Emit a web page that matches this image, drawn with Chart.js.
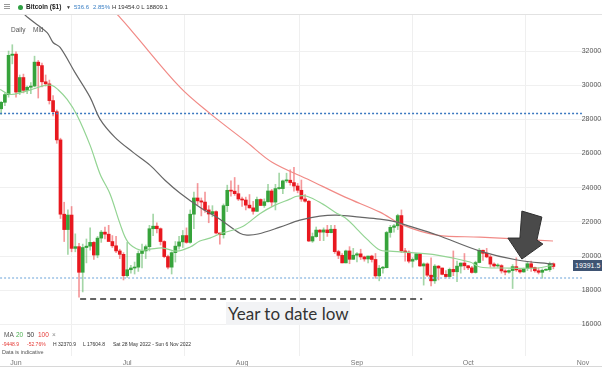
<!DOCTYPE html>
<html>
<head>
<meta charset="utf-8">
<script src="https://cdn.jsdelivr.net/npm/chart.js@4.4.0/dist/chart.umd.min.js"></script>
<style>
  body { margin: 0; background: #fff; }
  #wrap { position: relative; width: 602px; height: 369px; overflow: hidden; font-family: "Liberation Sans", Arial, sans-serif; }
  #wrap canvas { position: absolute; left: 0; top: 0; }
  .t { position: absolute; white-space: nowrap; line-height: 1; }
  .bar { position: absolute; left: 4px; width: 6px; height: 1px; background: #999; }
</style>
</head>
<body>
<div id="wrap">
  <canvas id="chart" width="602" height="369"></canvas>

  <!-- header strip -->
  <div class="bar" style="top:4px"></div>
  <div class="bar" style="top:6px"></div>
  <div class="bar" style="top:8px"></div>
  <div style="position:absolute;left:18px;top:5px;width:5px;height:5px;border-radius:50%;background:#2ea043"></div>
  <div class="t" style="left:26px;top:4px;font-size:6.5px;font-weight:bold;color:#222">Bitcoin ($1)</div>
  <div class="t" style="left:66px;top:5px;font-size:5px;color:#333">▼</div>
  <div class="t" style="left:74px;top:4px;font-size:6px;color:#3a7fc4">536.6</div>
  <div class="t" style="left:93px;top:4px;font-size:6px;color:#3a7fc4">2.85%</div>
  <div class="t" style="left:112px;top:4px;font-size:6px;color:#333">H 19454.0 L 18809.1</div>
  <div style="position:absolute;left:0;top:14px;width:602px;height:1px;background:#e2e2e2"></div>

  <div class="t" style="left:11px;top:27px;font-size:6.5px;color:#555">Daily</div>
  <div class="t" style="left:33px;top:27px;font-size:6.5px;color:#555">Mid</div>

  <!-- annotation -->
  <div class="t" style="left:226px;top:302px;width:124px;height:23px;background:#f2f3f5"></div>
  <div class="t" style="left:228px;top:305px;font-family:Lato, 'Open Sans', sans-serif;font-size:17px;color:#333">Year to date low</div>

  <!-- last price tag -->
  <div class="t" style="left:573px;top:260px;width:29px;height:11px;background:#3f5473"></div>
  <div class="t" style="left:575px;top:262px;font-size:7px;color:#fff">19391.5</div>

  <!-- legend bottom left -->
  <div class="t" style="left:4px;top:332px;font-size:6.5px;color:#555">MA</div>
  <div class="t" style="left:16px;top:332px;font-size:6.5px;color:#4caf50">20</div>
  <div class="t" style="left:27px;top:332px;font-size:6.5px;color:#333">50</div>
  <div class="t" style="left:38px;top:332px;font-size:6.5px;color:#e53935">100</div>
  <div class="t" style="left:52px;top:332px;font-size:6.5px;color:#888">×</div>
  <div class="t" style="left:2px;top:342px;font-size:5px;color:#e53935">-9448.9</div>
  <div class="t" style="left:27px;top:342px;font-size:5px;color:#e53935">-52.76%</div>
  <div class="t" style="left:53px;top:342px;font-size:5px;color:#333">H 32370.9</div>
  <div class="t" style="left:83px;top:342px;font-size:5px;color:#333">L 17604.8</div>
  <div class="t" style="left:113px;top:342px;font-size:5px;color:#333">Sat 28 May 2022 - Sun 6 Nov 2022</div>
  <div class="t" style="left:2px;top:350px;font-size:5.5px;color:#555">Data is indicative</div>

  <div style="position:absolute;left:0;top:366px;width:602px;height:1px;background:#d8d8d8"></div>
</div>

<script>
// daily candles from 28 May 2022 to 24 Oct 2022 (day 0 = 1 Jun 2022)
const firstDate = '2022-05-28';
const openPrices = [
  28620, 29000, 29450, 31750, 31820, 29600, 30450, 29700, 29880, 29950,
  31350, 31150, 30200, 30080, 29100, 28450, 26800, 22450, 21550, 22400,
  20450, 20550, 19050, 20500, 20580, 20800, 20060, 21050, 21400, 21280,
  20850, 20600, 20300, 20100, 18850, 19200, 19300, 19350, 20150, 20300,
  20550, 21600, 21750, 21600, 20850, 19970, 19350, 20200, 20580, 20830,
  21200, 20800, 22450, 23400, 23230, 23160, 22700, 22460, 22600, 21350,
  21250, 22950, 23850, 23800, 23650, 23340, 23280, 22980, 22820, 22620,
  23310, 22960, 23180, 23810, 23160, 23950, 23950, 24400, 24440, 24300,
  24100, 23850, 23340, 23210, 20880, 21140, 21520, 21400, 21530, 21370,
  21570, 20260, 20040, 19600, 20300, 19810, 20050, 20130, 19950, 19830,
  20000, 19800, 18840, 19290, 19320, 21380, 21680, 21770, 22370, 20300,
  20230, 19700, 19800, 20130, 19420, 19540, 18880, 18550, 19410, 19300,
  18930, 18800, 19220, 19080, 19410, 19590, 19430, 19310, 19040, 19620,
  20340, 20160, 19950, 19530, 19420, 19440, 19130, 19060, 19150, 19380,
  19190, 19070, 19260, 19550, 19330, 19140, 19050, 19170, 19200, 19550
];
const highPrices = [
  29050, 29550, 32000, 32370, 31960, 30600, 30650, 29950, 30150, 31700,
  31450, 31300, 30600, 30300, 29400, 28550, 26900, 23150, 22700, 22900,
  21300, 20750, 20700, 21000, 21650, 20850, 21150, 21500, 21700, 21800,
  21200, 21150, 20400, 20200, 20800, 19450, 19650, 20300, 20700, 20650,
  21800, 22450, 21950, 21650, 20900, 20050, 20250, 20850, 21150, 21500,
  21650, 22700, 23750, 24250, 23400, 23750, 22950, 22950, 22650, 21350,
  23050, 24150, 24400, 24600, 24150, 23450, 23450, 23600, 23200, 23450,
  23350, 23350, 24200, 23900, 24200, 24850, 24450, 24850, 25050, 25200,
  24250, 24450, 23600, 23250, 21350, 21700, 21550, 21650, 21800, 21800,
  21800, 20340, 20150, 20350, 20550, 20450, 20200, 20400, 20000, 20000,
  20050, 20150, 19450, 19400, 21450, 21800, 21850, 22450, 22700, 20450,
  20300, 19900, 20150, 20150, 19600, 19600, 19900, 19500, 19450, 19300,
  19150, 19300, 20300, 19700, 19600, 20150, 19450, 19400, 19700, 20450,
  20350, 20450, 20050, 19600, 19550, 19500, 19200, 19200, 19500, 19900,
  19200, 19300, 19650, 19700, 19350, 19300, 19250, 19250, 19650, 19600
];
const lowPrices = [
  28300, 28800, 29300, 31250, 29300, 29450, 29550, 29500, 29500, 29900,
  29250, 29900, 29950, 28900, 28200, 26600, 22200, 20850, 20100, 20250,
  20250, 17600, 17900, 19600, 20350, 19800, 19900, 20800, 21000, 20900,
  20500, 20200, 19850, 18600, 18750, 19000, 18950, 19100, 19300, 19850,
  20300, 21200, 21350, 20650, 19900, 19250, 18950, 19650, 20400, 20500,
  20750, 20750, 21600, 23000, 22350, 22550, 21950, 22300, 21300, 20700,
  21050, 22600, 23500, 23550, 23250, 22900, 22700, 22800, 22450, 22600,
  22950, 22850, 23150, 22900, 22700, 23900, 23650, 24300, 24150, 23800,
  23700, 23200, 23150, 20850, 20800, 21100, 20900, 20900, 21150, 21350,
  20150, 19850, 19600, 19600, 19550, 19800, 19650, 19800, 19700, 19600,
  19650, 18700, 18550, 19000, 19300, 21100, 21400, 21550, 20200, 19700,
  19600, 19350, 19750, 19400, 18300, 18800, 18250, 18400, 18600, 18900,
  18700, 18700, 18850, 18500, 19000, 19200, 19200, 19000, 19000, 19600,
  19750, 19900, 19350, 19350, 19350, 19000, 18900, 19000, 18100, 19100,
  19000, 19050, 19150, 19100, 19050, 18950, 18700, 19150, 19100, 19250
];
const closePrices = [
  29000, 29450, 31750, 31820, 29600, 30450, 29700, 29880, 29950, 31350,
  31150, 30200, 30080, 29100, 28450, 26800, 22450, 21550, 22400, 20450,
  20550, 19050, 20500, 20580, 20800, 20060, 21050, 21400, 21280, 20850,
  20600, 20300, 20100, 18850, 19200, 19300, 19350, 20150, 20300, 20550,
  21600, 21750, 21600, 20850, 19970, 19350, 20200, 20580, 20830, 21200,
  20800, 22450, 23400, 23230, 23160, 22700, 22460, 22600, 21350, 21250,
  22950, 23850, 23800, 23650, 23340, 23280, 22980, 22820, 22620, 23310,
  22960, 23180, 23810, 23160, 23950, 23950, 24400, 24440, 24300, 24100,
  23850, 23340, 23210, 20880, 21140, 21520, 21400, 21530, 21370, 21570,
  20260, 20040, 19600, 20300, 19810, 20050, 20130, 19950, 19830, 20000,
  19800, 18840, 19290, 19320, 21380, 21680, 21770, 22370, 20300, 20230,
  19700, 19800, 20130, 19420, 19540, 18880, 18550, 19410, 19300, 18930,
  18800, 19220, 19080, 19410, 19590, 19430, 19310, 19040, 19620, 20340,
  20160, 19950, 19530, 19420, 19440, 19130, 19060, 19150, 19380, 19190,
  19070, 19260, 19550, 19330, 19140, 19050, 19170, 19200, 19550, 19390
];

// moving averages: [day, price]
const ma20 = [
  [-4.3, 29750], [-1.6, 29460], [1.6, 29580], [5.1, 29810], [7.8, 29990], [9.7, 29990],
  [11.3, 29750], [13.8, 29170], [16.5, 28230], [20.0, 26480], [22.7, 24790], [25.4, 23620],
  [28.1, 21870], [30.2, 20820], [33.5, 20350], [36.2, 20410], [39.7, 20470], [43.4, 20290],
  [47.0, 20530], [49.6, 20880], [52.3, 21050], [55.0, 21290], [61.3, 21750], [65.8, 22480],
  [69.9, 22980], [73.9, 23330], [75.8, 23500], [78.5, 23500], [82.8, 23040], [86.1, 22570],
  [89.3, 22160], [92.0, 21580], [94.7, 20990], [98.2, 20350], [100.9, 20290], [104.4, 20230],
  [113.6, 20060], [122.5, 19650], [125.2, 19360], [131.4, 19300], [140.6, 19300], [144.9, 19470]
];
const ma50 = [
  [0.5, 34540], [3.2, 33960], [8.4, 33080], [10.0, 32500], [11.9, 32210], [15.9, 30750],
  [20.0, 29290], [22.7, 28000], [26.7, 26950], [31.6, 26070], [36.2, 25310], [40.2, 24440],
  [44.3, 23680], [49.6, 22860], [55.0, 22160], [60.4, 21340], [62.3, 21230], [65.3, 21290],
  [71.2, 21690], [76.6, 22100], [82.0, 22340], [86.6, 22400], [92.8, 22280], [98.2, 22160],
  [102.8, 21990], [104.4, 21870], [113.6, 21230], [125.2, 20290], [135.2, 19770], [144.9, 19530]
];
const ma100 = [
  [22.7, 35130], [28.1, 33960], [31.6, 33080], [44.3, 29870], [52.3, 28350], [62.3, 26660],
  [69.1, 25490], [79.3, 24440], [88.8, 23450], [98.2, 22570], [104.4, 21810], [113.6, 21230],
  [125.2, 21110], [136.0, 20990], [144.9, 20880]
];

// reference levels
const resistanceLevel = 28350;
const supportLevel = 18720;
const levelSpan = [-4.3, 152.7];
const yearLow = 17480;
const yearLowSpan = [17.3, 109.6];
const arrowTip = { day: 136.5, price: 19825 };

// axes
const monthTicks = [0, 30, 61, 92, 122, 153];
const monthLabels = ['Jun', 'Jul', 'Aug', 'Sep', 'Oct', 'Nov'];
const priceTicks = [16000, 18000, 20000, 22000, 24000, 26000, 28000, 30000, 32000];
const dayRange = [-4.32, 158.12];
const priceRange = [14150, 34110];

const UP = '#36a33b', DOWN = '#e8181f';
const UP_WICK = 'rgba(54,163,59,0.45)', DOWN_WICK = 'rgba(232,24,31,0.45)';

const start = new Date(firstDate + 'T00:00:00Z');
const day0 = new Date('2022-06-01T00:00:00Z');
const dayOf = i => Math.round((start - day0) / 86400000) + i;

const bodies = [], wicks = [], bodyCol = [], wickCol = [];
closePrices.forEach((c, i) => {
  const o = openPrices[i];
  const up = c >= o;
  bodies.push({ x: dayOf(i), y: [Math.min(o, c), Math.max(o, c)] });
  wicks.push({ x: dayOf(i), y: [lowPrices[i], highPrices[i]] });
  bodyCol.push(up ? UP : DOWN);
  wickCol.push(up ? UP_WICK : DOWN_WICK);
});

const pts = arr => arr.map(p => ({ x: p[0], y: p[1] }));
const flat = (span, v) => [{ x: span[0], y: v }, { x: span[1], y: v }];

const arrowPlugin = {
  id: 'arrow',
  afterDatasetsDraw(chart) {
    const { ctx, scales } = chart;
    const tx = scales.x.getPixelForValue(arrowTip.day);
    const ty = scales.y.getPixelForValue(arrowTip.price);
    const shape = [[0, -48], [20, -42], [15, -19], [21, -15], [0, 0], [-14, -21], [-2, -21]];
    ctx.save();
    ctx.beginPath();
    shape.forEach((p, i) => i ? ctx.lineTo(tx + p[0], ty + p[1]) : ctx.moveTo(tx + p[0], ty + p[1]));
    ctx.closePath();
    ctx.fillStyle = '#4a4a4a';
    ctx.fill();
    ctx.strokeStyle = '#2f2f2f';
    ctx.lineWidth = 1;
    ctx.stroke();
    ctx.restore();
  }
};

const family = '"Liberation Sans", Arial, sans-serif';

new Chart(document.getElementById('chart'), {
  type: 'bar',
  data: {
    datasets: [
      { type: 'line', data: pts(ma20), borderColor: '#93d493', borderWidth: 1.2, pointRadius: 0, tension: 0.35, order: 1 },
      { type: 'line', data: pts(ma50), borderColor: '#666', borderWidth: 1.2, pointRadius: 0, tension: 0.35, order: 1 },
      { type: 'line', data: pts(ma100), borderColor: '#f18a86', borderWidth: 1.2, pointRadius: 0, tension: 0.35, order: 1 },
      { type: 'line', data: flat(levelSpan, resistanceLevel), borderColor: '#3b78c0', borderWidth: 1.5, borderDash: [2, 2], pointRadius: 0, order: 2 },
      { type: 'line', data: flat(levelSpan, supportLevel), borderColor: '#9cc2e6', borderWidth: 1.5, borderDash: [2, 2], pointRadius: 0, order: 2 },
      { type: 'line', data: flat(yearLowSpan, yearLow), borderColor: '#333', borderWidth: 1.5, borderDash: [6, 4], pointRadius: 0, order: 2 },
      { data: bodies, backgroundColor: bodyCol, barThickness: 3, minBarLength: 1, grouped: false, order: 3 },
      { data: wicks, backgroundColor: wickCol, barThickness: 1, grouped: false, order: 4 }
    ]
  },
  options: {
    responsive: false,
    animation: false,
    events: [],
    layout: { padding: { top: 15, left: 0, right: 0, bottom: 0 } },
    plugins: { legend: { display: false }, tooltip: { enabled: false } },
    scales: {
      x: {
        type: 'linear', min: dayRange[0], max: dayRange[1], offset: false,
        afterBuildTicks: s => { s.ticks = monthTicks.map(v => ({ value: v })); },
        afterFit: s => { s.height = 13; },
        ticks: { callback: (v, i) => monthLabels[i], autoSkip: false, maxRotation: 0, padding: 3, color: '#777', font: { size: 7, family } },
        grid: { color: '#efefef', drawTicks: false },
        border: { display: false }
      },
      y: {
        position: 'right', min: priceRange[0], max: priceRange[1],
        afterBuildTicks: s => { s.ticks = priceTicks.map(v => ({ value: v })); },
        afterFit: s => { s.width = 0; },
        ticks: { mirror: true, padding: 5, callback: v => v.toFixed(1), color: '#555', font: { size: 7, family } },
        grid: { color: '#f0f0f0', drawTicks: false },
        border: { display: false }
      }
    }
  },
  plugins: [arrowPlugin]
});
</script>
</body>
</html>
